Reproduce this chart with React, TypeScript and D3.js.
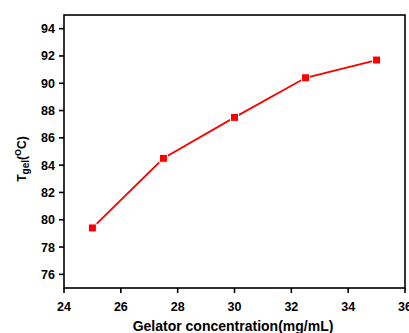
import React from "react";
import * as d3 from "d3";

const concentrations = [25, 27.5, 30, 32.5, 35];
const tgel = [79.4, 84.5, 87.5, 90.4, 91.7];
const xTicks = [24, 26, 28, 30, 32, 34, 36];
const yTicks = [76, 78, 80, 82, 84, 86, 88, 90, 92, 94];

const W = 409, H = 333;
const left = 64, right = 405, top = 15, bottom = 288;
const font = "'Liberation Sans', Arial, sans-serif";

export default function App() {
  const x = d3.scaleLinear().domain([24, 36]).range([left, right]);
  const y = d3.scaleLinear().domain([75, 95]).range([bottom, top]);
  const line = d3.line<number>().x((_, i) => x(concentrations[i])).y((d) => y(d));
  return (
    <svg width={W} height={H} style={{ position: "absolute", left: 0, top: 0 }}>
      <rect x={0} y={0} width={W} height={H} fill="#fff" />
      <rect x={left} y={top} width={right - left} height={bottom - top} fill="none" stroke="#000" strokeWidth={1.6} />
      {xTicks.map((t) => (
        <g key={"x" + t}>
          <line x1={x(t)} x2={x(t)} y1={bottom} y2={bottom + 5} stroke="#000" strokeWidth={1.6} />
          <text x={x(t)} y={311} textAnchor="middle" fontFamily={font} fontWeight="bold" fontSize={12.5}>{t}</text>
        </g>
      ))}
      {yTicks.map((t) => (
        <g key={"y" + t}>
          <line x1={left - 5} x2={left} y1={y(t)} y2={y(t)} stroke="#000" strokeWidth={1.6} />
          <text x={55} y={y(t) + 4.5} textAnchor="end" fontFamily={font} fontWeight="bold" fontSize={12.5}>{t}</text>
        </g>
      ))}
      <path d={line(tgel) || ""} fill="none" stroke="#ff0000" strokeWidth={1.8} />
      {tgel.map((v, i) => (
        <rect key={i} x={x(concentrations[i]) - 4} y={y(v) - 4} width={8} height={8} fill="#ff0000" stroke="#fff" strokeWidth={1} />
      ))}
      <text x={233} y={331} textAnchor="middle" fontFamily={font} fontWeight="bold" fontSize={14}>Gelator concentration(mg/mL)</text>
      <text transform={`translate(25.5,159) rotate(-90)`} textAnchor="middle" fontFamily={font} fontWeight="bold" fontSize={12}>
        T<tspan fontSize={10} dy={3}>gel</tspan><tspan dy={-3}>(</tspan><tspan fontSize={9} dy={-5}>O</tspan><tspan dy={5}>C)</tspan>
      </text>
    </svg>
  );
}
